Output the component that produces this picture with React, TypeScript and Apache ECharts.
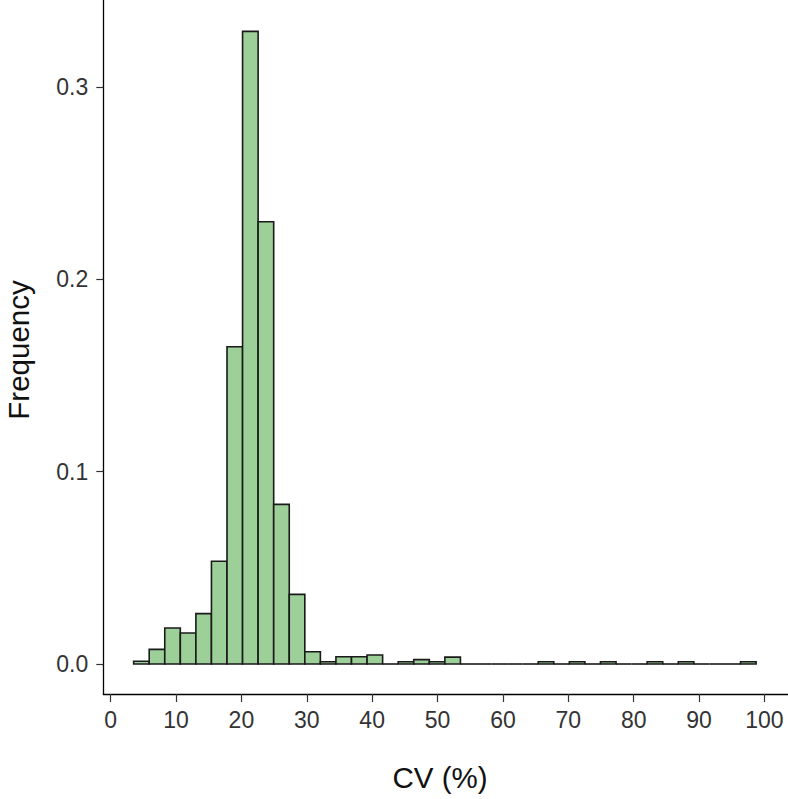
import React, { useEffect, useRef } from "react";
import * as echarts from "echarts";

// Histogram bins (CV %), 40 equal-width bins
const BIN_MIN = 3.52;
const BIN_WIDTH = 2.38;
const frequency = [
  0.0014, 0.0076, 0.0187, 0.0161, 0.0262, 0.0534, 0.165, 0.329, 0.23, 0.083,
  0.0362, 0.0064, 0.0012, 0.0038, 0.0038, 0.0047, 0, 0.0012, 0.0023, 0.0012,
  0.0036, 0, 0, 0, 0, 0, 0.0012, 0, 0.0012, 0,
  0.0012, 0, 0, 0.0012, 0, 0.0012, 0, 0, 0, 0.0012,
];
const xTicks = [0, 10, 20, 30, 40, 50, 60, 70, 80, 90, 100];
const yTicks = [0, 0.1, 0.2, 0.3];

export default function App() {
  const ref = useRef<HTMLDivElement>(null);
  useEffect(() => {
    if (!ref.current) return;
    const chart = echarts.init(ref.current, undefined, { renderer: "svg" });
    const data = frequency.map((f, i) => [
      BIN_MIN + i * BIN_WIDTH,
      BIN_MIN + (i + 1) * BIN_WIDTH,
      f,
    ]);
    const labelStyle = {
      color: "#333333",
      fontSize: 23,
      fontFamily: "Liberation Sans, Arial, sans-serif",
    };
    chart.setOption({
      animation: false,
      backgroundColor: "#ffffff",
      grid: { left: 103.3, right: 0, top: 0, bottom: 105, containLabel: false },
      xAxis: {
        type: "value",
        min: -1.12,
        max: 103.6,
        splitLine: { show: false },
        axisLine: { show: true, onZero: false, lineStyle: { color: "#000", width: 1.3 } },
        axisTick: {
          show: true,
          length: 8,
          customValues: xTicks,
          lineStyle: { color: "#333", width: 1.2 },
        },
        axisLabel: {
          ...labelStyle,
          margin: 14,
          customValues: xTicks,
          formatter: (v: number) => String(v),
        },
      },
      yAxis: {
        type: "value",
        min: -0.0156,
        max: 0.3453,
        splitLine: { show: false },
        axisLine: { show: true, onZero: false, lineStyle: { color: "#000", width: 1.3 } },
        axisTick: {
          show: true,
          length: 7,
          customValues: yTicks,
          lineStyle: { color: "#333", width: 1.2 },
        },
        axisLabel: {
          ...labelStyle,
          margin: 15,
          customValues: yTicks,
          formatter: (v: number) => v.toFixed(1),
        },
      },
      graphic: [
        {
          type: "text",
          x: 440,
          y: 777,
          style: {
            text: "CV (%)",
            fontSize: 29.5,
            fontFamily: "Liberation Sans, Arial, sans-serif",
            fill: "#111",
            align: "center",
            verticalAlign: "middle",
          },
        },
        {
          type: "text",
          x: 18,
          y: 350,
          rotation: Math.PI / 2,
          style: {
            text: "Frequency",
            fontSize: 29.5,
            fontFamily: "Liberation Sans, Arial, sans-serif",
            fill: "#111",
            align: "center",
            verticalAlign: "middle",
          },
        },
      ],
      series: [
        {
          type: "custom",
          data,
          encode: { x: [0, 1], y: 2 },
          renderItem: (params: any, api: any) => {
            const x0 = api.value(0);
            const x1 = api.value(1);
            const f = api.value(2);
            const p0 = api.coord([x0, f]);
            const p1 = api.coord([x1, 0]);
            if (f === 0) {
              return {
                type: "line",
                shape: { x1: p0[0], y1: p1[1], x2: p1[0], y2: p1[1] },
                style: { stroke: "#1a1a1a", lineWidth: 1.6 },
              };
            }
            return {
              type: "rect",
              shape: { x: p0[0], y: p0[1], width: p1[0] - p0[0], height: p1[1] - p0[1] },
              style: { fill: "#9dcf98", stroke: "#1a1a1a", lineWidth: 1.6 },
            };
          },
        },
      ],
    });
    return () => chart.dispose();
  }, []);
  return (
    <div
      ref={ref}
      style={{ position: "fixed", left: 0, top: 0, width: 788, height: 799 }}
    />
  );
}
